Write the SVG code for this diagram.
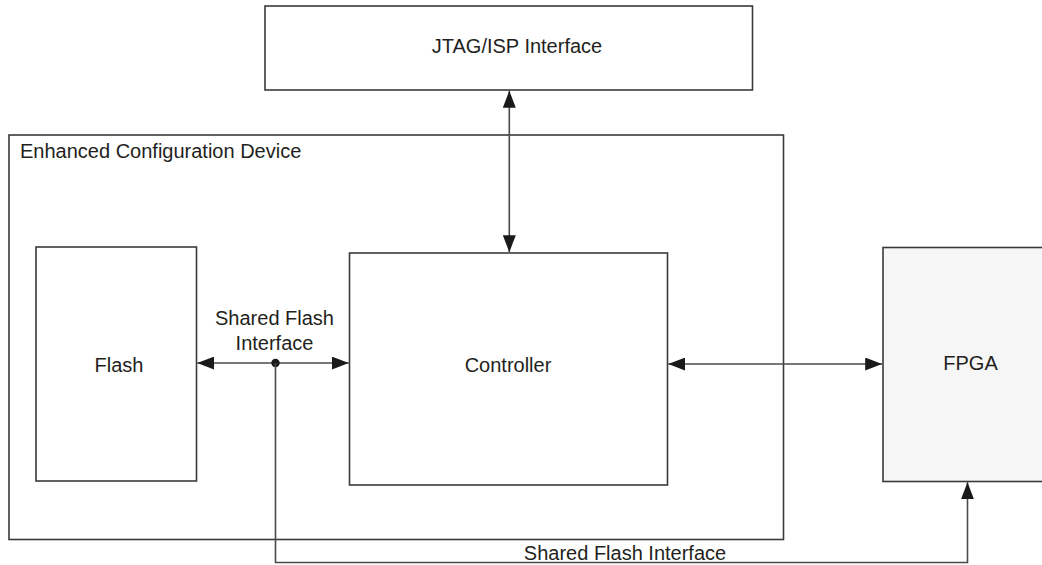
<svg xmlns="http://www.w3.org/2000/svg" width="1042" height="565" viewBox="0 0 1042 565">
<style>
.box{fill:#ffffff;stroke:#3a3a3a;stroke-width:1.6}
.fpga{fill:#f6f6f6;stroke:#3a3a3a;stroke-width:1.6}
.lbl{font-family:"Liberation Sans",Arial,sans-serif;font-size:20px;fill:#231f20}
.mid{text-anchor:middle}
.wire{fill:none;stroke:#4a4a4a;stroke-width:1.6}
</style>
<defs>
<marker id="arr" viewBox="0 0 17 13" refX="17" refY="6.5" markerWidth="17" markerHeight="13" markerUnits="userSpaceOnUse" orient="auto-start-reverse">
<path d="M0,0 L17,6.5 L0,13 Z" fill="#1a1a1a"/>
</marker>
</defs>
<g id="ecd">
<rect class="box" x="9" y="135" width="774.5" height="404.5"/>
<text class="lbl" x="20" y="158">Enhanced Configuration Device</text>
</g>
<g id="jtag">
<rect class="box" x="265" y="6" width="487.5" height="84"/>
<text class="lbl mid" x="517" y="53">JTAG/ISP Interface</text>
</g>
<g id="flash">
<rect class="box" x="36" y="247" width="160.5" height="234"/>
<text class="lbl mid" x="119" y="371.5">Flash</text>
</g>
<g id="controller">
<rect class="box" x="349.5" y="253" width="318" height="232"/>
<text class="lbl mid" x="508" y="372">Controller</text>
</g>
<g id="fpga">
<rect class="fpga" x="883" y="247.5" width="170" height="234"/>
<text class="lbl mid" x="970.5" y="370">FPGA</text>
</g>
<g id="connectors">
<line class="wire" x1="509.3" y1="90.8" x2="509.3" y2="252.2" marker-start="url(#arr)" marker-end="url(#arr)"/>
<line class="wire" x1="197.3" y1="363" x2="348.7" y2="363" marker-start="url(#arr)" marker-end="url(#arr)"/>
<circle cx="275.5" cy="363" r="4.2" fill="#1a1a1a"/>
<line class="wire" x1="668.3" y1="364" x2="882.2" y2="364" marker-start="url(#arr)" marker-end="url(#arr)"/>
<path class="wire" d="M275.5,363 V562.5 H967.5 V482.3" marker-end="url(#arr)"/>
</g>
<g id="labels">
<text class="lbl mid" x="274.5" y="325">Shared Flash</text>
<text class="lbl mid" x="274.5" y="349.5">Interface</text>
<text class="lbl mid" x="625" y="560">Shared Flash Interface</text>
</g>
</svg>
